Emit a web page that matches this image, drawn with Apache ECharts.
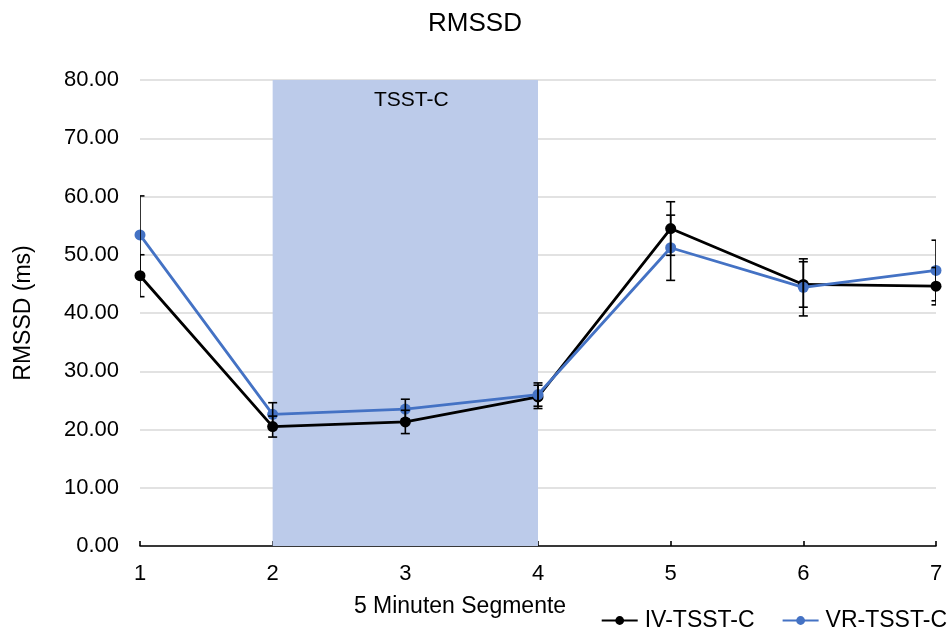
<!DOCTYPE html>
<html>
<head>
<meta charset="utf-8">
<script src="https://cdn.jsdelivr.net/npm/echarts@6/dist/echarts.min.js"></script>
<style>html,body{margin:0;padding:0;background:#fff;}#c{width:950px;height:632px;}</style>
</head>
<body>
<div id="c"></div>
<script>
var categories = ['1', '2', '3', '4', '5', '6', '7'];
var ivMean = [46.4, 20.5, 21.3, 25.6, 54.5, 44.9, 44.6];
var ivSd   = [3.6, 1.8, 2.0, 2.0, 4.6, 3.9, 3.2];
var vrMean = [53.4, 22.6, 23.5, 26.0, 51.2, 44.4, 47.3];
var vrSd   = [6.7, 2.0, 1.7, 2.0, 5.6, 4.9, 5.2];
var yTicks = [0, 10, 20, 30, 40, 50, 60, 70, 80];
var phaseStart = '2';
var phaseEnd = '4';
var phaseLabel = 'TSST-C';

function errData(mean, sd) {
  return mean.map(function (m, i) { return [i, m - sd[i], m + sd[i]]; });
}
function renderErr(params, api) {
  var x = api.value(0);
  var lo = api.coord([x, api.value(1)]);
  var hi = api.coord([x, api.value(2)]);
  var w = 4.5;
  var st = { stroke: '#000', lineWidth: 1.6 };
  return {
    type: 'group',
    children: [
      { type: 'line', shape: { x1: hi[0], y1: hi[1], x2: lo[0], y2: lo[1] }, style: st },
      { type: 'line', shape: { x1: hi[0] - w, y1: hi[1], x2: hi[0] + w, y2: hi[1] }, style: st },
      { type: 'line', shape: { x1: lo[0] - w, y1: lo[1], x2: lo[0] + w, y2: lo[1] }, style: st }
    ]
  };
}

var chart = echarts.init(document.getElementById('c'));
chart.setOption({
  animation: false,
  textStyle: { fontFamily: 'Liberation Sans, Arial, sans-serif' },
  title: {
    text: 'RMSSD', left: 'center', top: 6,
    textStyle: { fontSize: 26, fontWeight: 'normal', color: '#000' }
  },
  legend: {
    right: 0, top: 609, padding: [0, 3, 0, 0],
    itemWidth: 36, itemHeight: 11, itemGap: 27,
    textStyle: { fontSize: 23, color: '#000', padding: [0, 0, 0, 2] },
    data: ['IV-TSST-C', 'VR-TSST-C']
  },
  grid: { left: 140, right: 14, top: 80, bottom: 86 },
  xAxis: {
    type: 'category', data: categories, boundaryGap: false,
    name: '5 Minuten Segmente', nameLocation: 'middle', nameGap: 49,
    nameTextStyle: { fontSize: 23, color: '#000', padding: [0, 156, 0, 0] },
    axisLine: { lineStyle: { color: '#000', width: 1.6 } },
    axisTick: { inside: true, length: 5, lineStyle: { color: '#000', width: 1.6 } },
    axisLabel: { fontSize: 22, color: '#000', margin: 17 },
    splitLine: { show: false }
  },
  yAxis: {
    type: 'value', min: yTicks[0], max: yTicks[yTicks.length - 1], interval: 10,
    name: 'RMSSD (ms)', nameLocation: 'middle', nameGap: 105, nameRotate: 90,
    nameTextStyle: { fontSize: 23, color: '#000' },
    axisLine: { show: false }, axisTick: { show: false },
    axisLabel: { fontSize: 22, color: '#000', margin: 21, formatter: function (v) { return v.toFixed(2); } },
    splitLine: { lineStyle: { color: '#d9d9d9', width: 1.5 } }
  },
  series: [
    {
      name: 'IV-TSST-C', type: 'line', data: ivMean,
      symbol: 'circle', symbolSize: 11,
      itemStyle: { color: '#000' }, lineStyle: { color: '#000', width: 2.8 },
      z: 3,
      markArea: {
        silent: true,
        itemStyle: { color: '#BCCBEA' },
        label: { show: true, position: 'insideTop', distance: 10, fontSize: 21, color: '#000', offset: [6, 0] },
        data: [[{ xAxis: phaseStart, yAxis: 80, name: phaseLabel }, { xAxis: phaseEnd, yAxis: 0 }]]
      }
    },
    {
      name: 'VR-TSST-C', type: 'line', data: vrMean,
      symbol: 'circle', symbolSize: 11,
      itemStyle: { color: '#4472C4' }, lineStyle: { color: '#4472C4', width: 2.8 },
      z: 4
    },
    {
      name: 'IV-err', type: 'custom', renderItem: renderErr, data: errData(ivMean, ivSd),
      encode: { x: 0, y: [1, 2] }, clip: true, z: 5, silent: true
    },
    {
      name: 'VR-err', type: 'custom', renderItem: renderErr, data: errData(vrMean, vrSd),
      encode: { x: 0, y: [1, 2] }, clip: true, z: 5, silent: true
    }
  ]
});
</script>
</body>
</html>
